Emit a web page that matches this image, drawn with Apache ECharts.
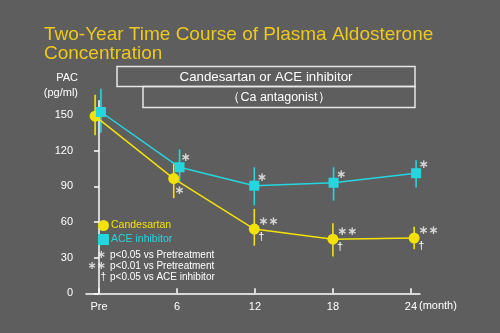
<!DOCTYPE html>
<html><head><meta charset="utf-8">
<script src="https://cdn.jsdelivr.net/npm/echarts@6/dist/echarts.min.js"></script>
<style>html,body{margin:0;padding:0;background:#5e5e5e}#c{width:500px;height:333px}</style>
</head><body><div id="c"></div>
<script>
// Data (month positions slightly dodged as in the picture)
var candX = [-0.3, 5.75, 11.95, 18.0, 24.25];
var candY = [149, 96.5, 54, 45.5, 46.5];
var candLow = [133, 80, 40, 31, 37];
var candHigh = [167, 110, 71, 59, 56];
var candSig = ['', '∗', '∗∗', '∗∗', '∗∗'];
var candDag = ['', '', '†', '†', '†'];

var aceX = [0.15, 6.2, 11.95, 18.05, 24.4];
var aceY = [152.5, 106, 90.5, 93, 101];
var aceLow = [135, 94, 74, 78, 89];
var aceHigh = [172, 121, 106, 106, 112];
var aceSig = ['', '∗', '∗', '∗', '∗'];

var xTicks = [0, 6, 12, 18, 24];
var xTickLabels = ['Pre', '6', '12', '18', '24'];
var yTicks = [0, 30, 60, 90, 120, 150];

var YEL = '#f2e20a', CYA = '#26d6df', GRAY = '#d4d4d4', WHITE = '#ffffff';
var FONT = '"Liberation Sans", Arial, sans-serif';
var SYM = '"DejaVu Sans", sans-serif';

function pts(xs, ys) { return xs.map(function (x, i) { return [x, ys[i]]; }); }
function bars(xs, lo, hi) { return xs.map(function (x, i) { return [x, lo[i], hi[i]]; }); }

function errSeries(data, color) {
  return {
    type: 'custom', data: data, clip: false, z: 3,
    renderItem: function (params, api) {
      var a = api.coord([api.value(0), api.value(1)]);
      var b = api.coord([api.value(0), api.value(2)]);
      return { type: 'line', shape: { x1: a[0], y1: a[1], x2: b[0], y2: b[1] },
        style: { stroke: color, lineWidth: 1.6 } };
    }
  };
}

var rich = {
  s: { color: GRAY, fontSize: 12, fontFamily: SYM, lineHeight: 15, fontWeight: 'bold' },
  d: { color: WHITE, fontSize: 11, fontFamily: FONT, lineHeight: 15 }
};

var candData = pts(candX, candY).map(function (p, i) {
  if (!candSig[i]) return { value: p };
  if (!candDag[i]) {
    return { value: p, label: { show: true, formatter: '{s|' + candSig[i] + '}', position: [11, 18], align: 'center', verticalAlign: 'middle', rich: rich } };
  }
  return { value: p, label: { show: true, formatter: '{s|' + candSig[i] + '}\n{d|' + candDag[i] + '}', position: [9.5, 5.5], align: 'left', verticalAlign: 'middle', rich: rich } };
});
var aceData = pts(aceX, aceY).map(function (p, i) {
  if (!aceSig[i]) return { value: p };
  var pos = i === 1 ? [11, -4] : [12.5, -3];
  return { value: p, label: { show: true, formatter: '{s|' + aceSig[i] + '}', position: pos, align: 'center', verticalAlign: 'middle', rich: rich } };
});

var chart = echarts.init(document.getElementById('c'));
chart.setOption({
  backgroundColor: '#5e5e5e',
  animation: false,
  textStyle: { fontFamily: FONT },
  title: {
    text: 'Two-Year Time Course of Plasma Aldosterone\nConcentration',
    left: 39, top: 20,
    textStyle: { color: '#eec81e', fontSize: 19, fontWeight: 'normal', lineHeight: 19, fontFamily: FONT }
  },
  legend: {
    orient: 'vertical', left: 93, top: 215, itemGap: 3, itemWidth: 11, itemHeight: 11,
    data: [
      { name: 'Candesartan', icon: 'circle', textStyle: { color: YEL } },
      { name: 'ACE inhibitor', icon: 'rect', textStyle: { color: CYA } }
    ],
    textStyle: { fontSize: 10.5, fontFamily: FONT, padding: [0, 0, 0, -3] }
  },
  grid: { left: 86, right: 80, top: 100.7, bottom: 39.7, containLabel: false },
  xAxis: {
    type: 'value', min: -1, max: 24.7,
    splitLine: { show: false },
    axisLine: { show: true, lineStyle: { color: WHITE, width: 1.5 } },
    axisTick: { show: true, inside: true, length: 5, customValues: xTicks, lineStyle: { color: WHITE, width: 1.5 } },
    axisLabel: { customValues: xTicks, color: WHITE, fontSize: 11, margin: 8,
      formatter: function (v) { return xTickLabels[xTicks.indexOf(v)]; } }
  },
  yAxis: {
    type: 'value', min: 0, max: 162, offset: 6,
    splitLine: { show: false },
    axisLine: { show: true, lineStyle: { color: WHITE, width: 1.5 } },
    axisTick: { show: true, length: 5, customValues: yTicks, lineStyle: { color: WHITE, width: 1.5 } },
    axisLabel: { customValues: yTicks, color: WHITE, fontSize: 11, margin: 7 }
  },
  graphic: [
    { type: 'text', x: 78, y: 78, style: { text: 'PAC', fill: WHITE, font: '11px ' + FONT, align: 'right', verticalAlign: 'middle' } },
    { type: 'text', x: 78, y: 93, style: { text: '(pg/ml)', fill: WHITE, font: '11px ' + FONT, align: 'right', verticalAlign: 'middle' } },
    { type: 'rect', shape: { x: 117, y: 66.5, width: 298, height: 20 }, style: { fill: 'none', stroke: '#e6e6e6', lineWidth: 1.5 } },
    { type: 'rect', shape: { x: 143, y: 86.5, width: 272, height: 21 }, style: { fill: 'none', stroke: '#e6e6e6', lineWidth: 1.5 } },
    { type: 'text', x: 266, y: 77, style: { text: 'Candesartan or ACE inhibitor', fill: WHITE, font: '13.3px ' + FONT, align: 'center', verticalAlign: 'middle' } },
    { type: 'text', x: 279, y: 97.5, style: { text: '（Ca antagonist）', fill: WHITE, font: '12.5px ' + FONT, align: 'center', verticalAlign: 'middle' } },
    { type: 'text', x: 106, y: 255.5, style: { text: '∗', fill: GRAY, font: 'bold 11px ' + SYM, align: 'right', verticalAlign: 'middle' } },
    { type: 'text', x: 106, y: 266.5, style: { text: '∗∗', fill: GRAY, font: 'bold 11px ' + SYM, align: 'right', verticalAlign: 'middle' } },
    { type: 'text', x: 106, y: 277, style: { text: '†', fill: WHITE, font: '10px ' + FONT, align: 'right', verticalAlign: 'middle' } },
    { type: 'text', x: 110, y: 255, style: { text: 'p<0.05 vs Pretreatment', fill: WHITE, font: '10px ' + FONT, verticalAlign: 'middle' } },
    { type: 'text', x: 110, y: 266, style: { text: 'p<0.01 vs Pretreatment', fill: WHITE, font: '10px ' + FONT, verticalAlign: 'middle' } },
    { type: 'text', x: 110, y: 277, style: { text: 'p<0.05 vs ACE inhibitor', fill: WHITE, font: '10px ' + FONT, verticalAlign: 'middle' } },
    { type: 'text', x: 419, y: 306, style: { text: '(month)', fill: WHITE, font: '11px ' + FONT, verticalAlign: 'middle' } }
  ],
  series: [
    errSeries(bars(candX, candLow, candHigh), YEL),
    errSeries(bars(aceX, aceLow, aceHigh), CYA),
    { name: 'Candesartan', type: 'line', data: candData, symbol: 'circle', symbolSize: 11, clip: false, z: 4,
      lineStyle: { color: YEL, width: 1.5 }, itemStyle: { color: YEL } },
    { name: 'ACE inhibitor', type: 'line', data: aceData, symbol: 'rect', symbolSize: 10, clip: false, z: 4,
      lineStyle: { color: CYA, width: 1.5 }, itemStyle: { color: CYA } }
  ]
});
</script></body></html>
